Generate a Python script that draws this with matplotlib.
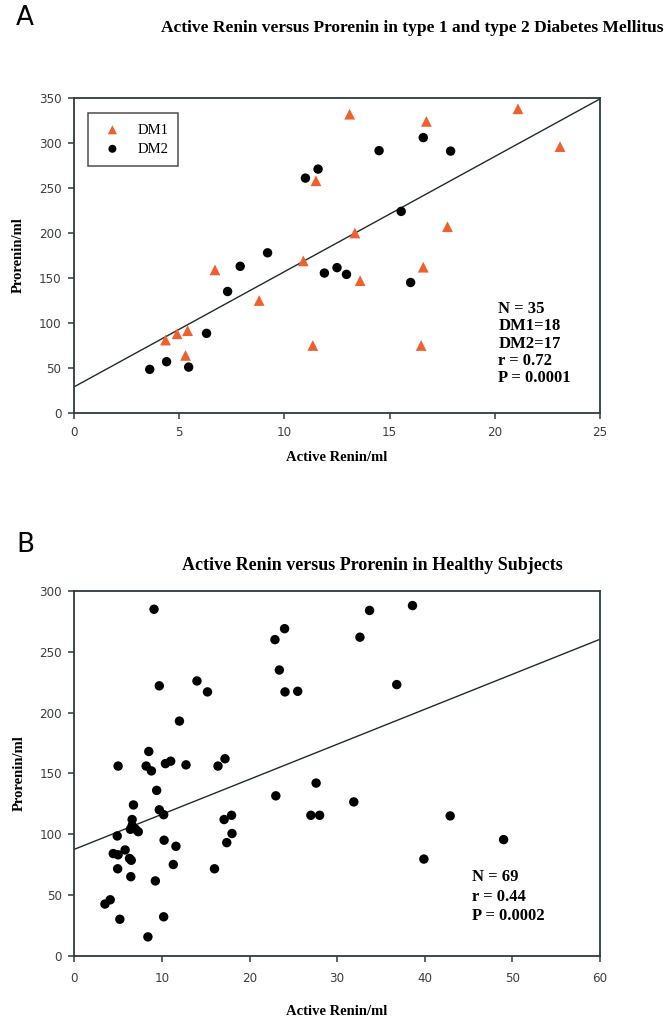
import numpy as np
import matplotlib
matplotlib.use("Agg")
import matplotlib.pyplot as plt

# Panel A - diabetes patients
dm1_renin = [13.1, 11.5, 13.35, 10.9, 6.7, 8.8, 13.6, 11.35, 4.35, 4.9, 5.4, 5.3,
             21.1, 16.75, 23.1, 17.75, 16.6, 16.5]
dm1_prorenin = [332, 258, 200, 169, 159, 125, 147, 75, 81, 88, 91.5, 64,
                338, 324, 296, 207, 162, 75]
dm2_renin = [3.6, 4.4, 5.45, 6.3, 7.3, 7.9, 9.2, 11.0, 11.6, 11.9, 12.5, 12.95,
             16.6, 14.5, 17.9, 15.55, 16.0]
dm2_prorenin = [48.5, 57, 51, 88.5, 135, 163, 178, 261, 271, 155.5, 161.5, 154,
                306, 291.5, 291, 224, 145]
fit_a = (29, 12.8)  # intercept, slope

# Panel B - healthy subjects
healthy_renin = [9.1, 9.7, 14.0, 15.2, 12.0, 8.5, 5.0, 8.2, 8.8, 10.4, 11.0, 12.75,
                 16.4, 17.2, 9.4, 6.75, 9.7, 10.2, 6.6, 6.6, 7.0, 7.3, 6.4, 4.9,
                 10.25, 11.6, 4.45, 5.0, 5.8, 6.3, 6.5, 11.3, 4.95, 6.45, 16.0, 9.25,
                 3.5, 4.1, 5.2, 10.2, 8.4,
                 22.9, 24.0, 23.4, 24.05, 25.5, 32.6, 33.7, 38.6, 36.8, 23.0, 27.6,
                 27.0, 28.0, 31.9, 17.95, 17.1, 18.0, 17.4,
                 42.9, 49.0, 39.9]
healthy_prorenin = [285, 222, 226, 217, 193, 168, 156, 156, 152, 158, 160, 157,
                    156, 162, 136, 124, 120, 116, 112, 107, 104, 102, 104, 98.5,
                    95, 90, 84, 83, 87, 80, 78.5, 75, 71.5, 65, 71.5, 61.5,
                    42.5, 46, 30, 32, 15.5,
                    260, 269, 235, 217, 217.5, 262, 284, 288, 223, 131.5, 142,
                    115.5, 115.5, 126.5, 115.5, 112, 100.5, 93,
                    115, 95.5, 79.5]
fit_b = (87.5, 2.88)

stats_a = "N = 35\nDM1=18\nDM2=17\nr = 0.72\nP = 0.0001"
stats_b = "N = 69\nr = 0.44\nP = 0.0002"

serif = "Liberation Serif"
tick_color = "#3a3f44"
spine_color = "#2f3a3f"

fig = plt.figure(figsize=(6.7, 10.22), dpi=100)


def style_axes(ax, xlim, ylim, xticks, yticks, xpad=5):
    ax.set_xlim(*xlim)
    ax.set_ylim(*ylim)
    ax.set_xticks(xticks)
    ax.set_yticks(yticks)
    for s in ax.spines.values():
        s.set_color(spine_color)
        s.set_linewidth(1.3)
    ax.tick_params(direction="out", length=4, width=1.1, color=spine_color,
                   labelsize=9.5, labelcolor=tick_color, pad=5)
    ax.tick_params(axis="x", pad=xpad)
    for lab in ax.get_xticklabels() + ax.get_yticklabels():
        lab.set_family("DejaVu Sans")
        lab.set_stretch("condensed")


# ---- Panel A ----
ax1 = fig.add_axes([74 / 670, 1 - 413 / 1022, 526 / 670, 315 / 1022])
ax1.scatter(dm1_renin, dm1_prorenin, marker="^", s=60, color="#f0602f",
            edgecolors="none", label="DM1", zorder=3)
ax1.scatter(dm2_renin, dm2_prorenin, marker="o", s=46, color="black",
            edgecolors="none", label="DM2", zorder=3)
xa = np.array([0, 25])
ax1.plot(xa, fit_a[0] + fit_a[1] * xa, color="#1f2a2a", lw=1.0, zorder=2)
style_axes(ax1, (0, 25), (0, 350), range(0, 26, 5), range(0, 351, 50))
leg = ax1.legend(loc="upper left", bbox_to_anchor=(0.012, 0.975), frameon=True,
                 fancybox=False, edgecolor="#222222", borderpad=0.7,
                 handletextpad=0.7, labelspacing=0.4, markerscale=0.85,
                 prop={"family": serif, "size": 10.5})
leg.get_frame().set_linewidth(1.1)
ax1.text(0.807, 0.355, stats_a, transform=ax1.transAxes, family=serif,
         weight="bold", fontsize=12, va="top", ha="left", linespacing=1.1)
ax1.set_xlabel("Active Renin/ml", family=serif, weight="bold", fontsize=10.5,
               labelpad=9)
ax1.set_ylabel("Prorenin/ml", family=serif, weight="bold", fontsize=10.5,
               labelpad=10)

fig.text(25 / 670, 1 - 18 / 1022, "A", fontsize=19, ha="center", va="center")
fig.text(412 / 670, 1 - 28 / 1022,
         "Active Renin versus Prorenin in type 1 and type 2 Diabetes Mellitus",
         family=serif, weight="bold", fontsize=12.5, ha="center", va="center")

# ---- Panel B ----
ax2 = fig.add_axes([74.3 / 670, 1 - 955.7 / 1022, 525.7 / 670, 364.7 / 1022])
ax2.scatter(healthy_renin, healthy_prorenin, marker="o", s=46, color="black",
            edgecolors="none", zorder=3)
xb = np.array([0, 60])
ax2.plot(xb, fit_b[0] + fit_b[1] * xb, color="#1f2a2a", lw=1.0, zorder=2)
style_axes(ax2, (0, 60), (0, 300), range(0, 61, 10), range(0, 301, 50), xpad=8)
ax2.text(0.757, 0.238, stats_b, transform=ax2.transAxes, family=serif,
         weight="bold", fontsize=12, va="top", ha="left", linespacing=1.3)
ax2.set_xlabel("Active Renin/ml", family=serif, weight="bold", fontsize=10.5,
               labelpad=14)
ax2.set_ylabel("Prorenin/ml", family=serif, weight="bold", fontsize=10.5,
               labelpad=10)

fig.text(25 / 670, 1 - 545 / 1022, "B", fontsize=19, ha="center", va="center")
fig.text(372 / 670, 1 - 565 / 1022,
         "Active Renin versus Prorenin in Healthy Subjects",
         family=serif, weight="bold", fontsize=13, ha="center", va="center")

fig.savefig("out.png", dpi=100, facecolor="white")
